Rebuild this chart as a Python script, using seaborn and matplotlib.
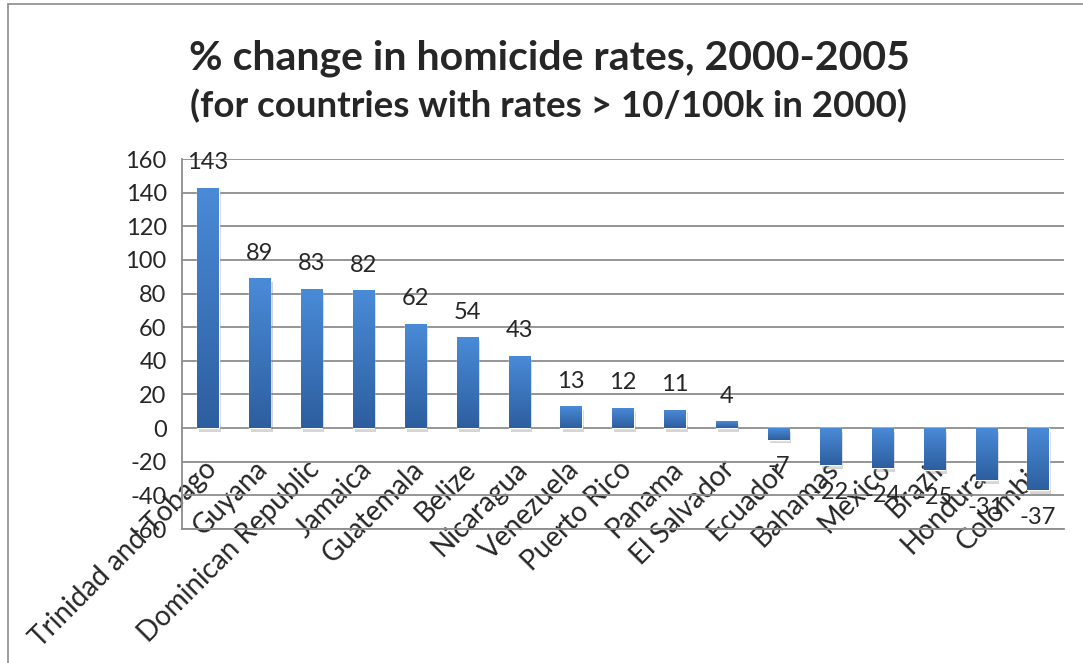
import numpy as np
import pandas as pd
import seaborn as sns
import matplotlib
matplotlib.use("Agg")
import matplotlib.pyplot as plt
from matplotlib.colors import LinearSegmentedColormap
from matplotlib.transforms import ScaledTranslation
import matplotlib.patheffects as pe
from matplotlib.lines import Line2D

countries = ["Trinidad and Tobago", "Guyana", "Dominican Republic", "Jamaica",
             "Guatemala", "Belize", "Nicaragua", "Venezuela", "Puerto Rico",
             "Panama", "El Salvador", "Ecuador", "Bahamas", "Mexico", "Brazil",
             "Honduras", "Colombia"]
changes = [143, 89, 83, 82, 62, 54, 43, 13, 12, 11, 4, -7, -22, -24, -25, -31, -37]
y_ticks = list(range(-60, 161, 20))
title1 = "% change in homicide rates, 2000-2005"
title2 = "(for countries with rates > 10/100k in 2000)"

sns.set_theme(style="white")
plt.rcParams["font.family"] = ["Lato", "DejaVu Sans"]

W, H = 1083, 663
fig = plt.figure(figsize=(W / 100, H / 100), dpi=100)
ax = fig.add_axes([182 / W, 1 - 529 / H, (1064 - 182) / W, (529 - 159) / H])

df = pd.DataFrame({"country": countries, "change": changes})
sns.barplot(data=df, x="country", y="change", color="#3a78c4", saturation=1,
            width=0.41, ax=ax, zorder=2)

ax.set_ylim(-60, 160)
ax.set_yticks(y_ticks)
ax.set_yticklabels([str(t) for t in y_ticks])
ax.set_xlim(-0.5, len(countries) - 0.5)
ax.yaxis.grid(True, color="#8c8c8c", lw=1.3)
ax.xaxis.grid(False)
ax.set_axisbelow(True)
for s in ["top", "right"]:
    ax.spines[s].set_visible(False)
for s in ["left", "bottom"]:
    ax.spines[s].set_color("#8c8c8c")
    ax.spines[s].set_linewidth(1.3)
ax.set_xlabel("")
ax.set_ylabel("")
ax.tick_params(axis="y", length=4, color="#8c8c8c", pad=7, labelsize=17)

# gradient fill and soft shadow on bars
cmap = LinearSegmentedColormap.from_list("g", ["#4a8bd8", "#2d5e9f"])
grad = np.linspace(0, 1, 256).reshape(-1, 1)
xl, yl = ax.get_xlim(), ax.get_ylim()
for p in ax.patches:
    x0, y0 = p.get_x(), p.get_y()
    w, h = p.get_width(), p.get_height()
    ymin, ymax = min(y0, y0 + h), max(y0, y0 + h)
    p.set_path_effects([pe.SimplePatchShadow(offset=(1.5, -2.5), shadow_rgbFace="#777777", alpha=0.3),
                        pe.Normal()])
    im = ax.imshow(grad, extent=(x0, x0 + w, ymin, ymax), origin="upper", cmap=cmap,
                   aspect="auto", zorder=3, interpolation="bilinear")
    im.set_clip_path(p)
ax.set_xlim(xl)
ax.set_ylim(yl)
ax.set_aspect("auto")

# data labels
for i, v in enumerate(changes):
    off = 18 if v >= 0 else -19.5
    ax.annotate(str(v), (i, v), xytext=(0, off), textcoords="offset points",
                ha="center", va="center", fontsize=17, zorder=5)

ax.set_xticks(range(len(countries)))
ax.set_xticklabels(countries, rotation=45, ha="right", va="center",
                   rotation_mode="anchor", fontsize=20)
ax.tick_params(axis="x", length=0, pad=-46)
shift = ScaledTranslation(3 / 72, 0, fig.dpi_scale_trans)
for lbl in ax.get_xticklabels():
    lbl.set_transform(lbl.get_transform() + shift)

fig.text(0.507, 1 - 58 / H, title1, ha="center", va="center", fontsize=29.5, weight="bold")
fig.text(0.506, 1 - 106 / H, title2, ha="center", va="center", fontsize=26.5, weight="bold")

fig.add_artist(Line2D([8 / W, 8 / W], [0, 1 - 4 / H], color="#8c8c8c", lw=1.2))
fig.add_artist(Line2D([8 / W, 1], [1 - 4 / H, 1 - 4 / H], color="#8c8c8c", lw=1.2))

fig.savefig("out.png", dpi=100)
